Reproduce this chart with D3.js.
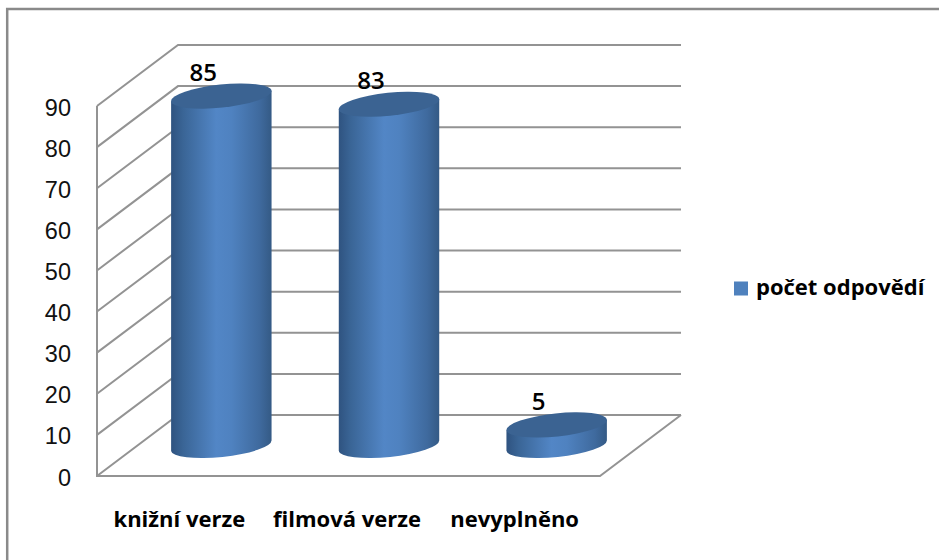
<!DOCTYPE html>
<html><head><meta charset="utf-8">
<script src="https://cdn.jsdelivr.net/npm/d3@7"></script>
<style>html,body{margin:0;background:#fff;overflow:hidden}svg{display:block}text{font-family:"Open Sans","Noto Sans",sans-serif}</style>
</head><body><svg id="c" width="939" height="560"></svg>
<script>
const categories=["knižní verze","filmová verze","nevyplněno"];
const values=[85,83,5];
const yTicks=[0,10,20,30,40,50,60,70,80,90];
const seriesName="počet odpovědí";

const svg=d3.select("#c");
const defs=svg.append("defs");
const grad=defs.append("linearGradient").attr("id","side");
[[0,"#2f5380"],[.12,"#3a6596"],[.45,"#5286c6"],[.6,"#4f82c0"],[.88,"#3f6a9e"],[1,"#345a85"]]
 .forEach(([o,c])=>grad.append("stop").attr("offset",o).attr("stop-color",c));

const x=d3.scaleBand().domain(categories).range([97,600]);
const y=d3.scaleLinear().domain([0,90]).range([476,106]);
const depthX=81,depthY=-61;
const gridC="#939393";

svg.append("rect").attr("x",7.2).attr("y",9).attr("width",960).attr("height",600)
  .attr("fill","#fff").attr("stroke","#8a8a8a").attr("stroke-width",2.5);

const g=svg.append("g").attr("fill","none").attr("stroke",gridC).attr("stroke-width",2);
yTicks.forEach(t=>{
  g.append("path").attr("d",d3.line()([[x.range()[0],y(t)],[x.range()[0]+depthX,y(t)+depthY],[x.range()[1]+depthX,y(t)+depthY]]));
});
g.append("path").attr("d",d3.line()([[x.range()[0],y(90)],[x.range()[0],y(0)],[x.range()[1],y(0)],[x.range()[1]+depthX,y(0)+depthY]]));

const rx=50.5,ry=11.5,rot=-6;
categories.forEach((c,i)=>{
  const cx=x(c)+x.bandwidth()/2+depthX/2, base=y(0)+depthY/2, top=y(values[i])+depthY/2;
  const a=rot*Math.PI/180;
  const ex=rx*Math.cos(a), ey=rx*Math.sin(a);
  svg.append("path").attr("fill","url(#side)")
    .attr("d",`M${cx-ex},${top-ey} L${cx-ex},${base-ey} A${rx},${ry} ${rot} 0 0 ${cx+ex},${base+ey} L${cx+ex},${top+ey} Z`);
  svg.append("ellipse").attr("cx",0).attr("cy",0).attr("rx",rx).attr("ry",ry)
    .attr("transform",`translate(${cx},${top}) rotate(${rot})`).attr("fill","#3b6392");
  svg.append("text").attr("x",cx-18).attr("y",top-15).attr("text-anchor","middle")
    .attr("font-size",24).attr("font-weight",600).attr("fill","#000").text(values[i]);
  svg.append("text").attr("x",x(c)+x.bandwidth()/2-1.5).attr("y",527).attr("text-anchor","middle")
    .attr("font-size",22).attr("font-weight",700).attr("fill","#000").text(c);
});

yTicks.forEach(t=>{
  svg.append("text").attr("x",71).attr("y",y(t)+9.5).attr("text-anchor","end")
    .style("font-family","'Liberation Sans'")
    .attr("font-size",23.5).attr("fill","#111").text(t);
});

svg.append("rect").attr("x",734).attr("y",281.5).attr("width",14).attr("height",14).attr("fill","#4f81bd");
svg.append("text").attr("x",756).attr("y",295).attr("font-size",22).attr("font-weight",700).attr("fill","#000").text(seriesName);
</script></body></html>
